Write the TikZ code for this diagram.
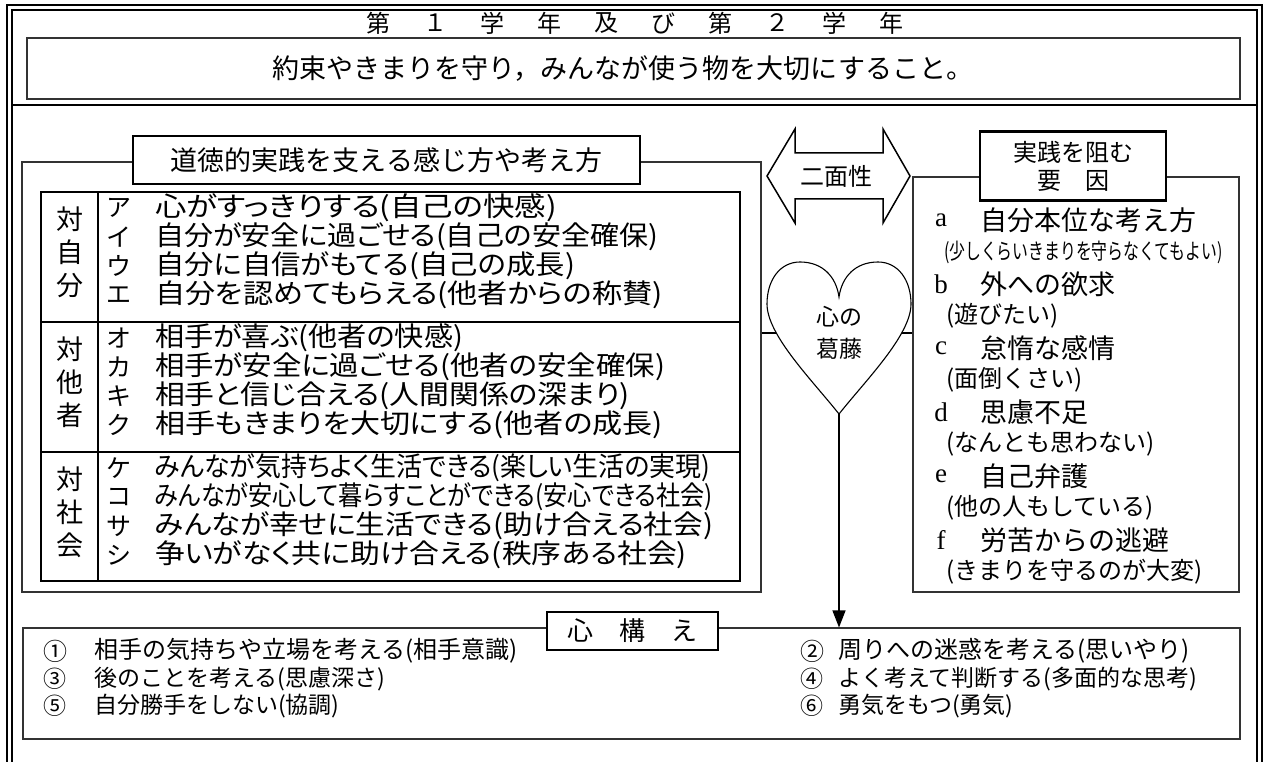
\documentclass[tikz,border=0pt]{standalone}
\usepackage{fontspec}
\usepackage{graphicx}
\setmainfont{Noto Sans CJK JP}
\newfontfamily\jpp[RawFeature=+palt]{Noto Sans CJK JP}
\newfontfamily\lat{Liberation Serif}
\usetikzlibrary{arrows.meta}
\newcommand\fsz[1]{\fontsize{#1pt}{#1pt}\selectfont}
\tikzset{
  t/.style={inner sep=0pt, outer sep=0pt},
  tw/.style={t, anchor=west},
  thinbox/.style={draw=black!80, line width=1.1pt, inner sep=0pt},
  thickbox/.style={draw=black, line width=2.2pt, fill=white, inner sep=0pt},
  frameline/.style={line width=2pt},
}
\begin{document}
\begin{tikzpicture}[x=1pt,y=-1pt]
\useasboundingbox (0,0) rectangle (1264,762);
\clip (0,0) rectangle (1264,762);
% outer double frame
\draw[frameline] (7,780) -- (7,5) -- (1262,5) -- (1262,780);
\draw[frameline] (12,780) -- (12,10) -- (1257,10) -- (1257,780);
\draw[frameline] (12,105) -- (1257,105);
% title
\foreach \c [count=\i from 0] in {第,１,学,年,及,び,第,２,学,年}
  {\node[t, font=\fsz{24}] (ti\i) at (378+57*\i, 23) {\c};}
% goal
\node[thinbox, minimum width=1213pt, minimum height=61pt] (goal) at (633.5,68.5) {};
\node[t, font=\fsz{27}] (goaltext) at (623,69) {約束やきまりを守り，みんなが使う物を大切にすること。};
% boxes
\node[thinbox, minimum width=739pt, minimum height=430pt] (leftbox) at (391.5,377) {};
\node[thinbox, minimum width=326pt, minimum height=415pt] (rightbox) at (1076,384.5) {};
\node[thinbox, minimum width=1217pt, minimum height=111pt] (kokoro) at (631.5,683.5) {};
\node[thickbox, minimum width=507pt, minimum height=48pt, font=\fsz{27}] (lhead) at (386.5,160) {道徳的実践を支える感じ方や考え方};
\node[thickbox, minimum width=186pt, minimum height=69pt, font={\fontsize{24pt}{28pt}\selectfont}, align=center] (rhead) at (1073,166) {実践を阻む\\要　因};
\node[thickbox, minimum width=171pt, minimum height=38pt, font=\fsz{26}] (khead) at (632.5,631) {心　構　え};
% table
\draw[line width=2pt] (41,192) rectangle (740,581);
\draw[line width=2pt] (98,192) -- (98,581);
\draw[line width=2pt] (41,322) -- (740,322);
\draw[line width=2pt] (41,452) -- (740,452);
\node[t, align=center, font={\fontsize{27pt}{33pt}\selectfont}] (lab1) at (69.5,252) {対\\自\\分};
\node[t, align=center, font={\fontsize{27pt}{33pt}\selectfont}] (lab2) at (69.5,382) {対\\他\\者};
\node[t, align=center, font={\fontsize{27pt}{33pt}\selectfont}] (lab3) at (69.5,512) {対\\社\\会};
\foreach \y/\k/\w/\s [count=\i] in {
  208/ア/402/心がすっきりする(自己の快感),
  237/イ/503/自分が安全に過ごせる(自己の安全確保),
  266/ウ/420/自分に自信がもてる(自己の成長),
  295/エ/508/自分を認めてもらえる(他者からの称賛),
  338/オ/308/相手が喜ぶ(他者の快感),
  367/カ/510/相手が安全に過ごせる(他者の安全確保),
  396/キ/475/相手と信じ合える(人間関係の深まり),
  425/ク/508/相手もきまりを大切にする(他者の成長),
  468/ケ/555/みんなが気持ちよく生活できる(楽しい生活の実現),
  497/コ/558/みんなが安心して暮らすことができる(安心できる社会),
  526/サ/558/みんなが幸せに生活できる(助け合える社会),
  555/シ/532/争いがなく共に助け合える(秩序ある社会)}
{
  \node[t, font=\fsz{25}] (k\i) at (119,\y) {\k};
  \node[tw, font=\jpp\fsz{27}] (s\i) at (155,\y) {\resizebox{\w pt}{\height}{\s}};
}
% double arrow
\draw[line width=1.5pt, fill=white] (767,176) -- (795,129) -- (795,153) -- (883,153) -- (883,129) -- (910,176)
  -- (883,223) -- (883,199) -- (795,199) -- (795,223) -- cycle;
\node[t, font=\fsz{24}] (nimen) at (836,176) {二面性};
% heart
\coordinate (hl) at (839,333);
\coordinate (heartTip) at (839,414);
\draw[line width=1.1pt] (leftbox.east |- hl) -- (rightbox.west |- hl);
\draw[line width=1.1pt, fill=white] (839,297) .. controls (836,276) and (822,262) .. (800,262)
  .. controls (780,262) and (767,280) .. (767,304)
  .. controls (767,335) and (812,380) .. (heartTip)
  .. controls (866,380) and (911,335) .. (911,304)
  .. controls (911,280) and (898,262) .. (878,262)
  .. controls (856,262) and (842,276) .. (839,297) -- cycle;
\node[t, align=center, font={\fontsize{23pt}{32pt}\selectfont}] (heartText) at (839,333) {心の\\葛藤};
\draw[line width=1.2pt, -{Triangle[width=13pt,length=17pt]}] (heartTip) -- (heartTip |- kokoro.north);
% right box items
\foreach \y/\l/\m/\s [count=\i] in {
  220/a/自分本位な考え方/,
  284/b/外への欲求/(遊びたい),
  348/c/怠惰な感情/(面倒くさい),
  412/d/思慮不足/(なんとも思わない),
  476/e/自己弁護/(他の人もしている),
  540/f/労苦からの逃避/(きまりを守るのが大変)}
{
  \node[t, font=\lat\fsz{27}] (rl\i) at (941,\y) {\l};
  \node[tw, font=\fsz{27}] (rm\i) at (980,\y) {\m};
  \node[tw, font=\fsz{24}] (rs\i) at (946,\y+32) {\s};
}
\node[tw] (ra) at (944,252) {\fsz{22}\scalebox{0.72}[1]{(少しくらいきまりを守らなくてもよい)}};
% bottom items
\node[tw, font=\fsz{24}] (n1) at (43,651) {①};
\node[tw, font=\fsz{24}] (b1) at (94,651) {相手の気持ちや立場を考える(相手意識)};
\node[tw, font=\fsz{23}] (n3) at (43,679) {③};
\node[tw, font=\fsz{23}] (b3) at (94,679) {後のことを考える(思慮深さ)};
\node[tw, font=\fsz{23}] (n5) at (43,706) {⑤};
\node[tw, font=\fsz{23}] (b5) at (94,706) {自分勝手をしない(協調)};
\node[tw, font=\fsz{24}] (n2) at (800,651) {②};
\node[tw, font=\fsz{24}] (b2) at (838,651) {周りへの迷惑を考える(思いやり)};
\node[tw, font=\fsz{23}] (n4) at (800,679) {④};
\node[tw, font=\fsz{23}] (b4) at (838,679) {よく考えて判断する(多面的な思考)};
\node[tw, font=\fsz{23}] (n6) at (800,706) {⑥};
\node[tw, font=\fsz{23}] (b6) at (838,706) {勇気をもつ(勇気)};
\end{tikzpicture}
\end{document}
